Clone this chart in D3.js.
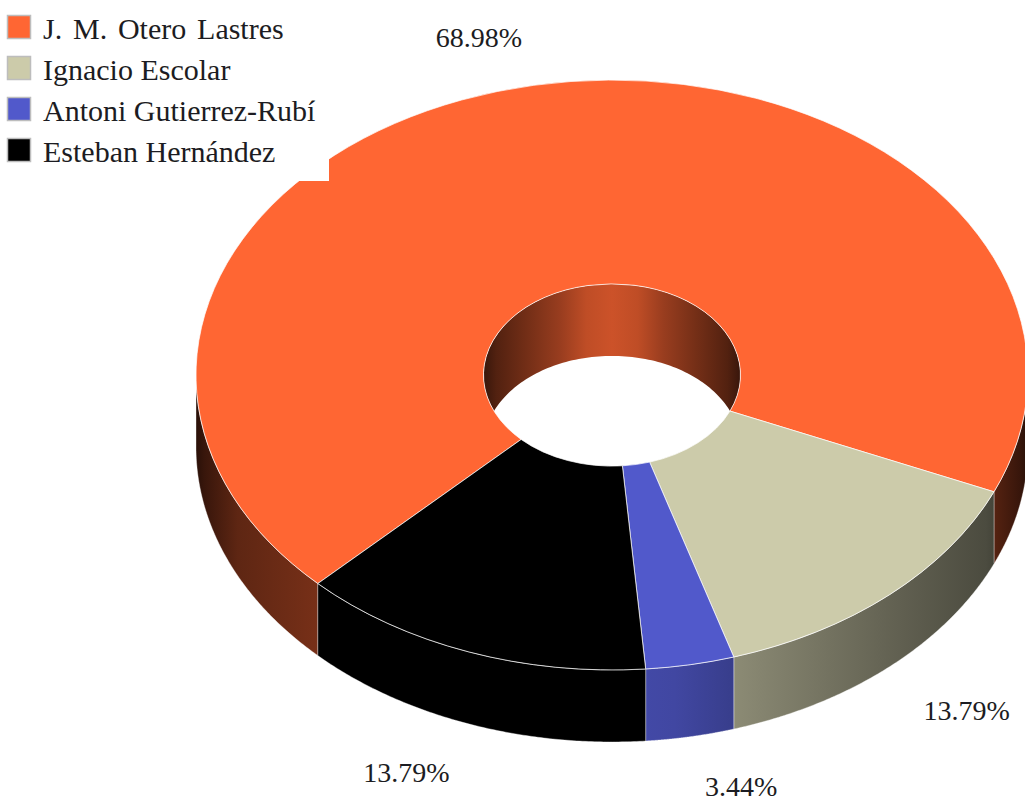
<!DOCTYPE html>
<html>
<head>
<meta charset="utf-8">
<style>
  html, body { margin: 0; padding: 0; background: #fff; overflow: hidden; }
  svg { display: block; }
  text { font-family: "Liberation Serif", "Times New Roman", serif; fill: #1c1c22; }
</style>
<script src="https://cdn.jsdelivr.net/npm/d3@7"></script>
</head>
<body>
<svg id="chart" width="1025" height="796"></svg>
<script>
// Share of mentions per author
const authors = ["J. M. Otero Lastres", "Ignacio Escolar", "Antoni Gutierrez-Rubí", "Esteban Hernández"];
const shares = [68.98, 13.79, 3.44, 13.79];
const shareLabels = ["68.98%", "13.79%", "3.44%", "13.79%"];
const colors = ["#ff6633", "#cccbaa", "#5159cb", "#000000"];

// Layout of the tilted ring
const cx = 612, cy = 375;
const outerR = 416, innerR = 128.5;
const tilt = 0.709;
const depth = 72;
const firstAngle = 225 * Math.PI / 180;
const labelShift = [[-55, -48], [77, 44], [51, 50], [-62, 49]];
const legendWordGap = [3.3, 0, 0, 0];

// Wall shading: brightness multiplier from the ring's centre line out to its rim
const wallShade = [[0, 0.84], [0.15, 0.8], [0.3, 0.68], [0.7, 0.47], [0.9, 0.37], [0.98, 0.22], [1, 0.16]];
const holeShade = [[0, 0.8], [0.2, 0.75], [0.4, 0.6], [0.65, 0.46], [0.9, 0.32], [1, 0.22]];

const svg = d3.select("#chart");
const defs = svg.append("defs");

const pie = d3.pie().sort(null).startAngle(firstAngle).endAngle(firstAngle + 2 * Math.PI);
const slices = pie(shares);

const px = (a, r) => cx + r * Math.sin(a);
const py = (a, r) => cy - r * tilt * Math.cos(a);

// Symmetric horizontal gradient for a wall of the given colour
function addGradient(id, color, x0, x1, shade) {
  const grad = defs.append("linearGradient")
    .attr("id", id)
    .attr("gradientUnits", "userSpaceOnUse")
    .attr("x1", x0).attr("x2", x1).attr("y1", 0).attr("y2", 0);
  const mirrored = [
    ...shade.slice().reverse().map(([o, k]) => [0.5 - o / 2, k]),
    ...shade.slice(1).map(([o, k]) => [0.5 + o / 2, k])
  ];
  const base = d3.rgb(color);
  grad.selectAll("stop").data(mirrored).join("stop")
    .attr("offset", d => d[0])
    .attr("stop-color", d => d3.rgb(base.r * d[1], base.g * d[1], base.b * d[1]).formatHex());
}

slices.forEach((s, i) => addGradient("wall" + i, colors[i], cx - outerR, cx + outerR, wallShade));
addGradient("holeWall", colors[0], cx - innerR, cx + innerR, holeShade);

// Outer walls: only the part of each slice that faces the viewer
const wallArea = d3.area()
  .x(a => px(a, outerR))
  .y0(a => py(a, outerR))
  .y1(a => py(a, outerR) + depth);

const walls = svg.append("g");
const frontStart = Math.PI / 2, frontEnd = 3 * Math.PI / 2;
slices.forEach((s, i) => {
  [0, 2 * Math.PI].forEach(turn => {
    const a0 = Math.max(s.startAngle, frontStart + turn);
    const a1 = Math.min(s.endAngle, frontEnd + turn);
    if (a1 <= a0) return;
    const angles = d3.range(0, 121).map(k => a0 + (a1 - a0) * k / 120);
    walls.append("path")
      .attr("d", wallArea(angles))
      .attr("fill", `url(#wall${i})`)
      .attr("stroke", "#fff")
      .attr("stroke-opacity", 0.45)
      .attr("stroke-width", 0.8);
  });
});

// Far side of the hole, visible through the opening
defs.append("clipPath").attr("id", "holeClip")
  .append("ellipse")
  .attr("cx", cx).attr("cy", cy)
  .attr("rx", innerR).attr("ry", innerR * tilt);

const holeArea = d3.area()
  .x(a => px(a, innerR))
  .y0(a => py(a, innerR))
  .y1(a => py(a, innerR) + depth);

svg.append("g").attr("clip-path", "url(#holeClip)")
  .append("path")
  .attr("d", holeArea(d3.range(-60, 61).map(k => k / 60 * Math.PI / 2)))
  .attr("fill", "url(#holeWall)");

// Top faces
const arc = d3.arc().innerRadius(innerR).outerRadius(outerR);
svg.append("g")
  .attr("transform", `translate(${cx},${cy}) scale(1,${tilt})`)
  .selectAll("path").data(slices).join("path")
  .attr("d", arc)
  .attr("fill", (d, i) => colors[i])
  .attr("stroke", "#fff")
  .attr("stroke-opacity", 0.7)
  .attr("stroke-width", 1)
  .attr("vector-effect", "non-scaling-stroke");

// Percentage labels
svg.append("g").selectAll("text").data(slices).join("text")
  .attr("x", (d, i) => px((d.startAngle + d.endAngle) / 2, outerR) + labelShift[i][0])
  .attr("y", (d, i) => {
    const mid = (d.startAngle + d.endAngle) / 2;
    return py(mid, outerR) + (Math.cos(mid) < 0 ? depth : 0) + labelShift[i][1];
  })
  .attr("dy", "0.33em")
  .attr("text-anchor", "middle")
  .attr("font-size", 28)
  .text((d, i) => shareLabels[i]);

// Legend sits on an opaque panel that hides the ring behind it
const legend = svg.append("g");
legend.append("rect").attr("width", 329).attr("height", 181).attr("fill", "#fff");
const rowY = d3.scalePoint().domain(d3.range(authors.length)).range([15, 138]);
const rows = legend.selectAll("g").data(authors).join("g")
  .attr("transform", (d, i) => `translate(7,${rowY(i)})`);
rows.append("rect")
  .attr("x", 0.5).attr("y", 0.5).attr("width", 23).attr("height", 23)
  .attr("fill", (d, i) => colors[i])
  .attr("stroke", "#bdbdbd").attr("stroke-width", 1.5);
rows.append("text")
  .attr("x", 36).attr("y", 24)
  .attr("font-size", 30)
  .attr("word-spacing", (d, i) => legendWordGap[i])
  .text(d => d);
</script>
</body>
</html>
